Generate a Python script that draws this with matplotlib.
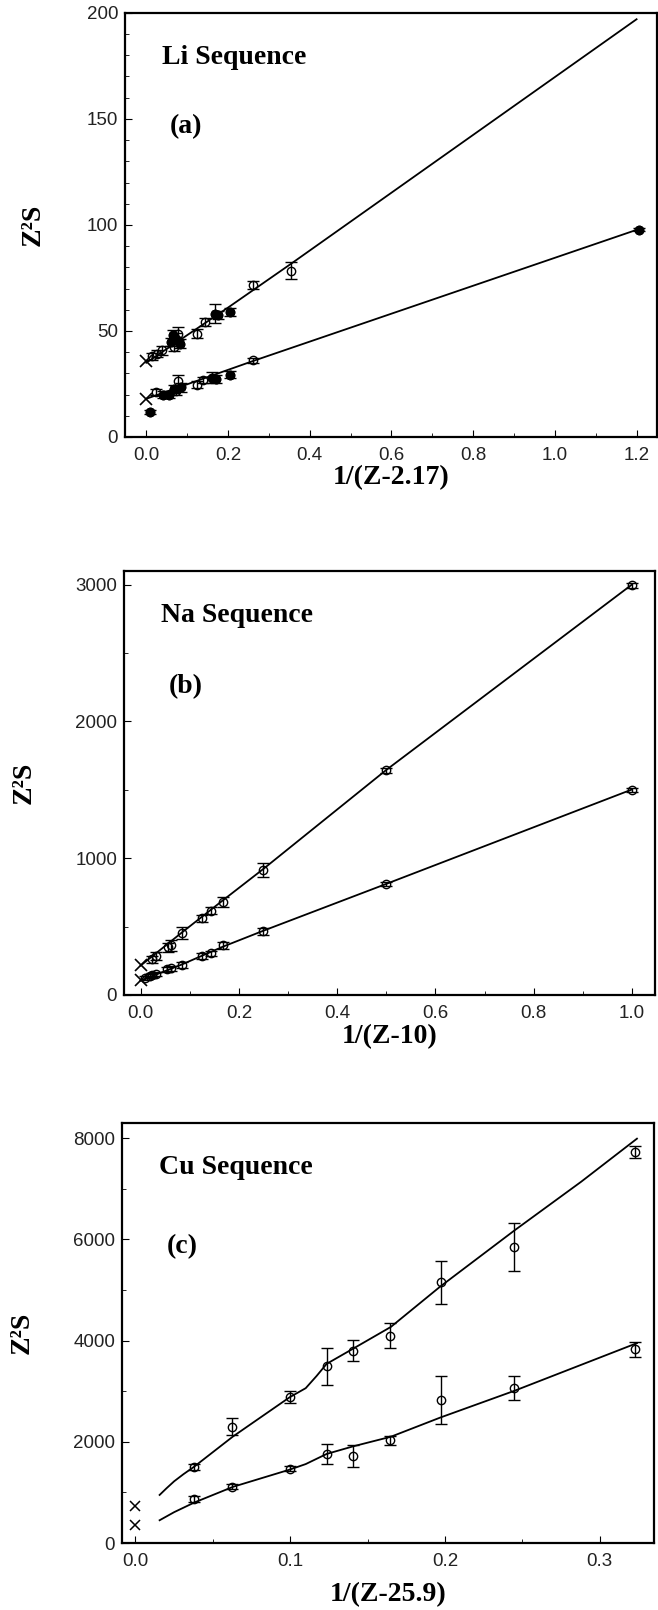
"""
Z^2 S versus 1/(Z - sigma) for the Li, Na and Cu isoelectronic sequences.
Three stacked panels, open circles with error bars, fitted curves, crosses at 1/Z -> 0.
"""
import numpy as np
import matplotlib
matplotlib.use("Agg")
import matplotlib.pyplot as plt
from matplotlib.ticker import MultipleLocator, FormatStrFormatter

SERIF = "Liberation Serif"
SANS = "Liberation Sans"

# ---------------- (a) Li sequence ----------------
li_up_x = [0.015, 0.027, 0.039, 0.061, 0.065, 0.068, 0.073, 0.077, 0.083,
           0.124, 0.143, 0.167, 0.175, 0.204, 0.261, 0.353]
li_up_y = [38.0, 39.3, 40.8, 44.8, 47.9, 42.4, 46.3, 48.7, 44.0,
           48.7, 54.2, 58.2, 57.4, 59.0, 71.6, 78.3]
li_up_err = [1.5, 1.5, 2.0, 2.0, 2.5, 2.0, 2.5, 3.0, 2.0,
             2.0, 2.0, 4.5, 2.0, 2.0, 2.0, 4.0]
li_up_filled = [0, 0, 0, 1, 1, 0, 1, 0, 1, 0, 0, 1, 1, 1, 0, 0]

li_lo_x = [0.008, 0.024, 0.040, 0.056, 0.069, 0.073, 0.077, 0.084,
           0.124, 0.139, 0.160, 0.170, 0.205, 0.261, 1.205]
li_lo_y = [11.6, 21.1, 20.0, 20.0, 22.6, 21.8, 26.6, 23.4,
           24.7, 26.9, 27.9, 27.4, 29.4, 36.1, 97.8]
li_lo_err = [1.0, 1.5, 1.5, 1.5, 2.0, 2.0, 2.5, 2.0,
             1.5, 1.5, 2.5, 2.0, 1.5, 1.0, 0.8]
li_lo_filled = [1, 0, 1, 1, 1, 0, 0, 1, 0, 0, 1, 1, 1, 0, 1]

li_cross_x = [0.0, 0.0]
li_cross_y = [36.0, 18.0]

li_fit_up_x = [0.0, 0.2, 0.353, 1.2]
li_fit_up_y = [35.0, 61.0, 81.5, 197.0]
li_fit_lo_x = [0.0, 0.261, 1.205]
li_fit_lo_y = [18.0, 35.8, 98.0]

# ---------------- (b) Na sequence ----------------
na_up_x = [0.0227, 0.0313, 0.0556, 0.0625, 0.0833, 0.125, 0.143, 0.1667, 0.25, 0.5, 1.0]
na_up_y = [260, 285, 348, 365, 455, 560, 615, 681, 912, 1642, 2995]
na_up_err = [25, 30, 35, 40, 45, 25, 25, 35, 50, 20, 20]

na_lo_x = [0.009, 0.018, 0.0227, 0.0313, 0.0526, 0.0625, 0.0833,
           0.125, 0.143, 0.1667, 0.25, 0.5, 1.0]
na_lo_y = [122, 139, 145, 153, 187, 195, 219, 285, 304, 363, 467, 810, 1501]
na_lo_err = [15, 15, 15, 15, 20, 20, 20, 20, 20, 25, 25, 15, 15]

na_cross_x = [0.0, 0.0]
na_cross_y = [219, 109]

na_fit_up_x = [0.0, 0.0833, 0.1667, 0.25, 0.5, 1.0]
na_fit_up_y = [215, 455, 690, 922, 1645, 3000]
na_fit_lo_x = [0.0, 0.0833, 0.1667, 0.25, 0.5, 1.0]
na_fit_lo_y = [105, 222, 352, 470, 812, 1502]

# ---------------- (c) Cu sequence ----------------
cu_x = [0.038, 0.0621, 0.0996, 0.1235, 0.1406, 0.1646, 0.1976, 0.2445, 0.3226]
cu_up_y = [1500, 2300, 2890, 3490, 3800, 4100, 5150, 5850, 7725]
cu_up_err = [60, 175, 120, 360, 210, 250, 420, 470, 115]
cu_lo_y = [870, 1110, 1470, 1760, 1720, 2030, 2830, 3070, 3830]
cu_lo_err = [50, 50, 50, 190, 215, 90, 470, 240, 145]

cu_cross_x = [0.0, 0.0]
cu_cross_y = [730, 360]

cu_fit_up_x = [0.0156, 0.020, 0.025, 0.031, 0.038, 0.063, 0.0996, 0.110,
               0.117, 0.1235, 0.1406, 0.165, 0.197, 0.245, 0.288, 0.324]
cu_fit_up_y = [950, 1080, 1220, 1360, 1510, 2105, 2880, 3060,
               3300, 3540, 3840, 4270, 5070, 6180, 7140, 7990]
cu_fit_lo_x = [0.0156, 0.025, 0.038, 0.063, 0.0996, 0.110, 0.1235, 0.1406,
               0.165, 0.197, 0.245, 0.324]
cu_fit_lo_y = [450, 610, 800, 1110, 1450, 1560, 1760, 1910,
               2100, 2480, 3010, 3950]


def draw_series(ax, x, y, err, filled=None):
    ax.errorbar(x, y, yerr=err, fmt="o", ms=6, mfc="none", mec="black",
                mew=1.0, ecolor="black", elinewidth=1.0, capsize=4.5,
                capthick=1.0, zorder=4)
    if filled is not None:
        fx = [a for a, f in zip(x, filled) if f]
        fy = [b for b, f in zip(y, filled) if f]
        ax.plot(fx, fy, "o", ms=6, mfc="black", mec="black", zorder=5)


def style_axes(ax, xlim, ylim, xmaj, xmin, ymaj, ymin, xfmt, xlabel,
               xlabel_y, ylabel_x, title, tag, tag_y):
    ax.set_xlim(*xlim)
    ax.set_ylim(*ylim)
    ax.xaxis.set_major_locator(MultipleLocator(xmaj))
    ax.xaxis.set_minor_locator(MultipleLocator(xmin))
    ax.yaxis.set_major_locator(MultipleLocator(ymaj))
    ax.yaxis.set_minor_locator(MultipleLocator(ymin))
    ax.xaxis.set_major_formatter(FormatStrFormatter(xfmt))
    ax.yaxis.set_major_formatter(FormatStrFormatter("%d"))
    ax.tick_params(which="both", direction="in", top=False, right=False,
                   colors="black", labelcolor="#222222", labelsize=13.5)
    ax.tick_params(axis="x", which="major", length=5, pad=7)
    ax.tick_params(axis="y", which="major", length=5, pad=5)
    ax.tick_params(which="minor", length=3)
    for lab in ax.get_xticklabels() + ax.get_yticklabels():
        lab.set_fontfamily(SANS)
    for sp in ax.spines.values():
        sp.set_linewidth(1.6)

    ax.set_xlabel(xlabel, fontfamily=SERIF, fontweight="bold", fontsize=20,
                  va="center")
    ax.xaxis.set_label_coords(0.5, xlabel_y)
    ax.set_ylabel("Z²S", fontfamily=SERIF, fontweight="bold", fontsize=20,
                  va="center")
    ax.yaxis.set_label_coords(ylabel_x, 0.5)

    ax.text(0.07, 0.895, title, transform=ax.transAxes, fontfamily=SERIF,
            fontweight="bold", fontsize=20, ha="left", va="center")
    ax.text(0.085, tag_y, tag, transform=ax.transAxes, fontfamily=SERIF,
            fontweight="bold", fontsize=20, ha="left", va="center")


fig = plt.figure(figsize=(6.58, 16.10), dpi=100)
fig.patch.set_facecolor("white")

ax_a = fig.add_axes([0.190, 0.7286, 0.8085, 0.2634])
ax_b = fig.add_axes([0.1884, 0.3820, 0.8070, 0.2634])
ax_c = fig.add_axes([0.1854, 0.0416, 0.8085, 0.2609])

# (a)
ax_a.plot(li_fit_up_x, li_fit_up_y, color="black", lw=1.3, zorder=3)
ax_a.plot(li_fit_lo_x, li_fit_lo_y, color="black", lw=1.3, zorder=3)
draw_series(ax_a, li_up_x, li_up_y, li_up_err, li_up_filled)
draw_series(ax_a, li_lo_x, li_lo_y, li_lo_err, li_lo_filled)
ax_a.plot(li_cross_x, li_cross_y, "x", ms=8, mew=1.2, color="black", zorder=5)
style_axes(ax_a, (-0.052, 1.250), (0, 200), 0.2, 0.1, 50, 10, "%.1f",
           "1/(Z-2.17)", -0.097, -0.172, "Li Sequence", "(a)", 0.731)

# (b)
ax_b.plot(na_fit_up_x, na_fit_up_y, color="black", lw=1.3, zorder=3)
ax_b.plot(na_fit_lo_x, na_fit_lo_y, color="black", lw=1.3, zorder=3)
draw_series(ax_b, na_up_x, na_up_y, na_up_err)
draw_series(ax_b, na_lo_x, na_lo_y, na_lo_err)
ax_b.plot(na_cross_x, na_cross_y, "x", ms=8, mew=1.2, color="black", zorder=5)
style_axes(ax_b, (-0.034, 1.047), (0, 3100), 0.2, 0.1, 1000, 500, "%.1f",
           "1/(Z-10)", -0.097, -0.188, "Na Sequence", "(b)", 0.726)

# (c)
ax_c.plot(cu_fit_up_x, cu_fit_up_y, color="black", lw=1.3, zorder=3)
ax_c.plot(cu_fit_lo_x, cu_fit_lo_y, color="black", lw=1.3, zorder=3)
draw_series(ax_c, cu_x, cu_up_y, cu_up_err)
draw_series(ax_c, cu_x, cu_lo_y, cu_lo_err)
ax_c.plot(cu_cross_x, cu_cross_y, "x", ms=7, mew=1.1, color="black", zorder=5)
style_axes(ax_c, (-0.0087, 0.335), (0, 8300), 0.1, 0.05, 2000, 1000, "%.1f",
           "1/(Z-25.9)", -0.122, -0.188, "Cu Sequence", "(c)", 0.705)

fig.savefig("out.png", dpi=100)
plt.close(fig)
